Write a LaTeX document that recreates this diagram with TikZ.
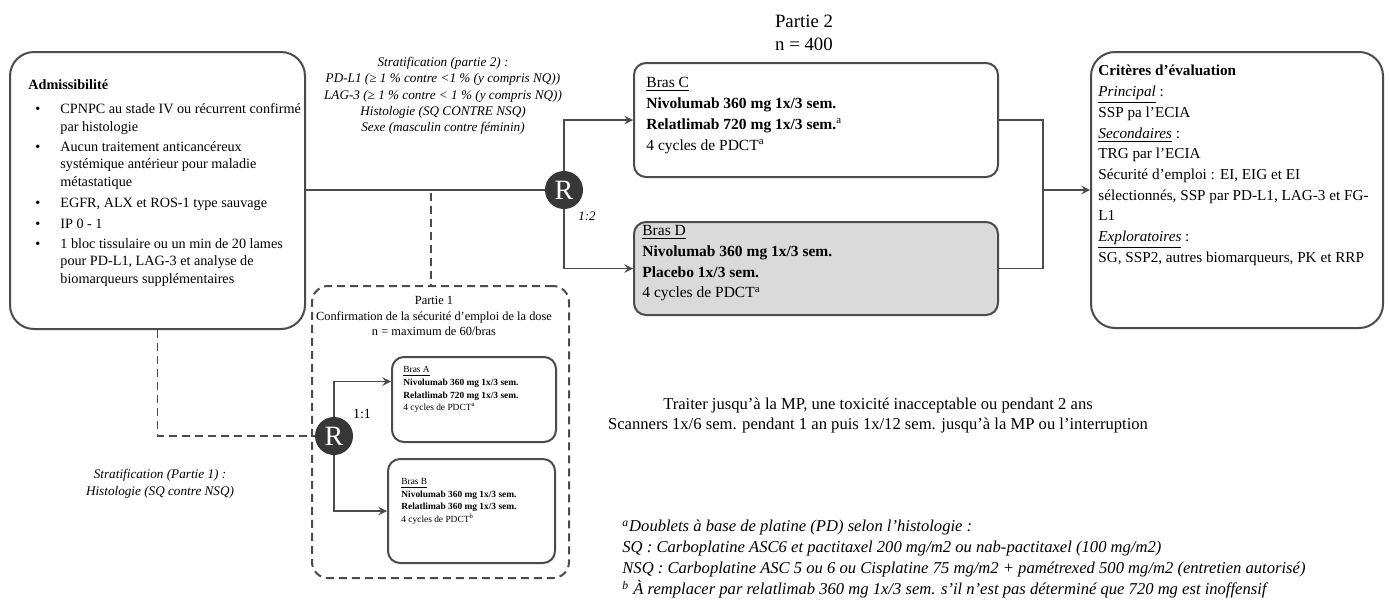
\documentclass[tikz,border=0pt]{standalone}
\usepackage{fontspec}
\setmainfont{Liberation Serif}
\usetikzlibrary{fit}
\definecolor{framegray}{RGB}{75,75,75}
\definecolor{armgray}{RGB}{218,218,218}
\definecolor{rgray}{RGB}{55,55,55}
\newcommand{\fnt}[2]{\fontsize{#1}{#2}\selectfont}

\begin{document}
\begin{tikzpicture}[x=0.5pt,y=-0.5pt,
  bigbox/.style={draw=framegray,line width=1pt,rounded corners=12pt,inner sep=0pt},
  armbox/.style={draw=framegray,line width=1pt,rounded corners=6pt,inner sep=0pt},
  rnode/.style={circle,fill=rgray,text=white,minimum size=19pt,inner sep=0pt,font=\fnt{14}{14}},
  txt/.style={anchor=north west,inner sep=0pt,align=left},
  link/.style={line width=0.9pt,framegray},
  dashlink/.style={line width=0.9pt,framegray,dash pattern=on 4pt off 2.5pt}]
\useasboundingbox (0,0) rectangle (1390,601);

% boxes
\node[bigbox,fit={(10,52) (305,329)}] (adm) {};
\node[bigbox,fit={(1091,52) (1383,328)}] (crit) {};
\node[armbox,fit={(634,63) (998,177)}] (armc) {};
\node[armbox,fill=armgray,fit={(634,222) (998,315)}] (armd) {};
\node[bigbox,rounded corners=8pt,dash pattern=on 4pt off 2.5pt,fit={(312,286) (569,578)}] (part1) {};
\node[armbox,fit={(392,357) (556,442)}] (arma) {};
\node[armbox,fit={(388,459) (555,563)}] (armb) {};

% randomisation
\node[rnode] (r2) at (564,190) {R};
\node[rnode] (r1) at (334,436) {R};

% texts
\node[txt,font=\fnt{7.1}{8.7}] (admtxt) at (28,77) {%
  \begin{tabular}{@{}p{16pt}@{}l@{}}
  \multicolumn{2}{@{}l}{\textbf{Admissibilité}}\\[3.4pt]
  \hspace{3.5pt}\textbullet & CPNPC au stade IV ou récurrent confirmé\\
   & par histologie\\[1.5pt]
  \hspace{3.5pt}\textbullet & Aucun traitement anticancéreux\\
   & systémique antérieur pour maladie\\
   & métastatique\\[2pt]
  \hspace{3.5pt}\textbullet & EGFR, ALX et ROS-1 type sauvage\\[1.5pt]
  \hspace{3.5pt}\textbullet & IP 0 - 1\\[1.5pt]
  \hspace{3.5pt}\textbullet & 1 bloc tissulaire ou un min de 20 lames\\
   & pour PD-L1, LAG-3 et analyse de\\
   & biomarqueurs supplémentaires
  \end{tabular}};
\node[txt,font=\fnt{7.6}{10.35}] (crittxt) at (1098,65) {%
  \textbf{Critères d'évaluation}\\
  \textit{\underline{Principal}} :\\
  SSP pa l'ECIA\\
  \textit{\underline{Secondaires}} :\\
  TRG par l'ECIA\\
  Sécurité d'emploi : EI, EIG et EI\\
  sélectionnés, SSP par PD-L1, LAG-3 et FG-\\
  L1\\
  \textit{\underline{Exploratoires}} :\\
  SG, SSP2, autres biomarqueurs, PK et RRP};
\node[anchor=north,inner sep=0pt,align=center,font=\fnt{9.4}{11.5}] (p2title) at (804,15) {Partie 2\\ n = 400};
\node[txt,font=\fnt{7.75}{10.4}] (armctxt) at (646,77) {%
  \underline{Bras C}\\
  \textbf{Nivolumab 360 mg 1x/3 sem.}\\
  \textbf{Relatlimab 720 mg 1x/3 sem.}\textsuperscript{a}\\
  4 cycles de PDCT\textsuperscript{a}};
\node[txt,font=\fnt{7.75}{10.4}] (armdtxt) at (642,225) {%
  \underline{Bras D}\\
  \textbf{Nivolumab 360 mg 1x/3 sem.}\\
  \textbf{Placebo 1x/3 sem.}\\
  4 cycles de PDCT\textsuperscript{a}};
\node[anchor=north,inner sep=0pt,align=center,font=\fnt{6.6}{8.1}\itshape] (strat2) at (443,57) {%
  Stratification (partie 2) :\\
  PD-L1 (≥ 1 \% contre <1 \% (y compris NQ))\\
  LAG-3 (≥ 1 \% contre < 1 \% (y compris NQ))\\
  Histologie (SQ CONTRE NSQ)\\
  Sexe (masculin contre féminin)};
\node[anchor=north,inner sep=0pt,align=center,font=\fnt{6.6}{8.3}\itshape] (strat1) at (160,469) {%
  Stratification (Partie 1) :\\
  Histologie (SQ contre NSQ)};
\node[anchor=north,inner sep=0pt,align=center,font=\fnt{6.2}{7.8}] (p1title) at (434,296) {%
  Partie 1\\
  Confirmation de la sécurité d'emploi de la dose\\
  n = maximum de 60/bras};
\node[txt,font=\fnt{4.7}{6.35}] (armatxt) at (403,366) {%
  \underline{Bras A}\\
  \textbf{Nivolumab 360 mg 1x/3 sem.}\\
  \textbf{Relatlimab 720 mg 1x/3 sem.}\\
  4 cycles de PDCT\textsuperscript{a}};
\node[txt,font=\fnt{4.7}{6.35}] (armbtxt) at (401,478) {%
  \underline{Bras B}\\
  \textbf{Nivolumab 360 mg 1x/3 sem.}\\
  \textbf{Relatlimab 360 mg 1x/3 sem.}\\
  4 cycles de PDCT\textsuperscript{b}};
\node[font=\fnt{6.5}{6.5}\itshape,inner sep=0pt] (ratio2) at (587,216) {1:2};
\node[font=\fnt{7}{7},inner sep=0pt] (ratio1) at (362,414) {1:1};
\node[anchor=north,inner sep=0pt,align=center,font=\fnt{8.3}{10}] (treat) at (878,398) {%
  Traiter jusqu'à la MP, une toxicité inacceptable ou pendant 2 ans\\
  Scanners 1x/6 sem. pendant 1 an puis 1x/12 sem. jusqu'à la MP ou l'interruption};
\node[txt,font=\fnt{8.3}{10.5}\itshape] (notes) at (622,520) {%
  \textsuperscript{a}Doublets à base de platine (PD) selon l'histologie :\\
  SQ : Carboplatine ASC6 et pactitaxel 200 mg/m2 ou nab-pactitaxel (100 mg/m2)\\
  NSQ : Carboplatine ASC 5 ou 6 ou Cisplatine 75 mg/m2 + pamétrexed 500 mg/m2 (entretien autorisé)\\
  \textsuperscript{b} À remplacer par relatlimab 360 mg 1x/3 sem. s'il n'est pas déterminé que 720 mg est inoffensif};

% connectors
\coordinate (join) at (1043,190);
\coordinate (s2) at (431,193);
\draw[link] (adm.east |- r2) -- (r2);
\draw[link,-stealth] (r2) |- (armc.west);
\draw[link,-stealth] (r2) |- (armd.west);
\draw[link] (armc.east) -| (join);
\draw[link] (armd.east) -| (join);
\draw[link,-stealth] (join) -- (crit.west |- join);
\draw[dashlink] (s2) -- (s2 |- part1.north);
\draw[dashlink] (adm.south) |- (r1.west);
\draw[link,-stealth] (r1) |- ([yshift=9pt]arma.west);
\draw[link,-stealth] (r1) |- (armb.west);
\end{tikzpicture}
\end{document}
